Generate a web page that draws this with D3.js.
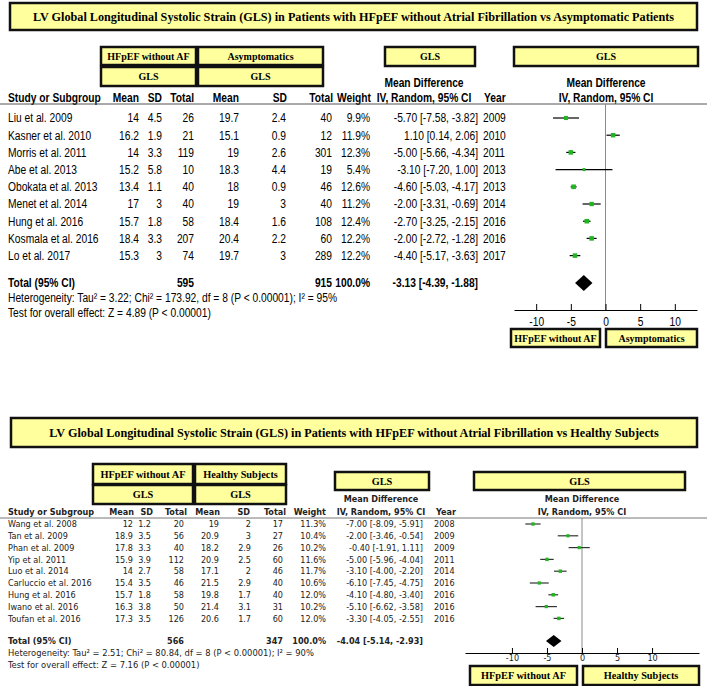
<!DOCTYPE html>
<html>
<head>
<meta charset="utf-8">
<script src="https://cdn.jsdelivr.net/npm/d3@7"></script>
<style>
  body { margin: 0; background: #fff; }
  svg { display: block; }
</style>
</head>
<body>
<svg id="chart"></svg>
<script>
/* ---------- data: HFpEF without AF vs Asymptomatics ---------- */
const studies1 = ["Liu et al. 2009", "Kasner et al. 2010", "Morris et al. 2011", "Abe et al. 2013",
  "Obokata et al. 2013", "Menet et al. 2014", "Hung et al. 2016", "Kosmala et al. 2016", "Lo et al. 2017"];
const meanA1 = ["14", "16.2", "14", "15.2", "13.4", "17", "15.7", "18.4", "15.3"];
const sdA1   = ["4.5", "1.9", "3.3", "5.8", "1.1", "3", "1.8", "3.3", "3"];
const nA1    = [26, 21, 119, 10, 40, 40, 58, 207, 74];
const meanB1 = ["19.7", "15.1", "19", "18.3", "18", "19", "18.4", "20.4", "19.7"];
const sdB1   = ["2.4", "0.9", "2.6", "4.4", "0.9", "3", "1.6", "2.2", "3"];
const nB1    = [40, 12, 301, 19, 46, 40, 108, 60, 289];
const weight1 = [9.9, 11.9, 12.3, 5.4, 12.6, 11.2, 12.4, 12.2, 12.2];
const md1    = [-5.70, 1.10, -5.00, -3.10, -4.60, -2.00, -2.70, -2.00, -4.40];
const lo1    = [-7.58, 0.14, -5.66, -7.20, -5.03, -3.31, -3.25, -2.72, -5.17];
const hi1    = [-3.82, 2.06, -4.34, 1.00, -4.17, -0.69, -2.15, -1.28, -3.63];
const year1  = [2009, 2010, 2011, 2013, 2013, 2014, 2016, 2016, 2017];
const total1 = { nA: 595, nB: 915, md: -3.13, lo: -4.39, hi: -1.88 };
const het1   = "Heterogeneity: Tau² = 3.22; Chi² = 173.92, df = 8 (P < 0.00001); I² = 95%";
const test1  = "Test for overall effect: Z = 4.89 (P < 0.00001)";

/* ---------- data: HFpEF without AF vs Healthy Subjects ---------- */
const studies2 = ["Wang et al. 2008", "Tan et al. 2009", "Phan et al. 2009", "Yip et al. 2011", "Luo et al. 2014",
  "Carluccio et al. 2016", "Hung et al. 2016", "Iwano et al. 2016", "Toufan et al. 2016"];
const meanA2 = ["12", "18.9", "17.8", "15.9", "14", "15.4", "15.7", "16.3", "17.3"];
const sdA2   = ["1.2", "3.5", "3.3", "3.9", "2.7", "3.5", "1.8", "3.8", "3.5"];
const nA2    = [20, 56, 40, 112, 58, 46, 58, 50, 126];
const meanB2 = ["19", "20.9", "18.2", "20.9", "17.1", "21.5", "19.8", "21.4", "20.6"];
const sdB2   = ["2", "3", "2.9", "2.5", "2", "2.9", "1.7", "3.1", "1.7"];
const nB2    = [17, 27, 26, 60, 46, 40, 40, 31, 60];
const weight2 = [11.3, 10.4, 10.2, 11.6, 11.7, 10.6, 12.0, 10.2, 12.0];
const md2    = [-7.00, -2.00, -0.40, -5.00, -3.10, -6.10, -4.10, -5.10, -3.30];
const lo2    = [-8.09, -3.46, -1.91, -5.96, -4.00, -7.45, -4.80, -6.62, -4.05];
const hi2    = [-5.91, -0.54, 1.11, -4.04, -2.20, -4.75, -3.40, -3.58, -2.55];
const year2  = [2008, 2009, 2009, 2011, 2014, 2016, 2016, 2016, 2016];
const total2 = { nA: 566, nB: 347, md: -4.04, lo: -5.14, hi: -2.93 };
const het2   = "Heterogeneity: Tau² = 2.51; Chi² = 80.84, df = 8 (P < 0.00001); I² = 90%";
const test2  = "Test for overall effect: Z = 7.16 (P < 0.00001)";

const axisTicks = [-10, -5, 0, 5, 10];

/* ---------- setup ---------- */
const width = 707, height = 686;
const svg = d3.select("#chart").attr("width", width).attr("height", height);

const boxFill = "#ffff9e", boxStroke = "#111", markGreen = "#22b422";
const serif = '"Liberation Serif", "Times New Roman", serif';
const f2 = v => (v < 0 ? "-" : "") + Math.abs(v).toFixed(2);
const ciText = (m, l, h) => `${f2(m)} [${f2(l)}, ${f2(h)}]`;

function box(g, x0, x1, y0, y1, label, fs, sw = 2.5) {
  g.append("rect").attr("x", x0).attr("y", y0).attr("width", x1 - x0).attr("height", y1 - y0)
    .attr("fill", boxFill).attr("stroke", boxStroke).attr("stroke-width", sw);
  g.append("text").attr("x", (x0 + x1) / 2).attr("y", (y0 + y1) / 2).attr("dy", "0.35em")
    .attr("text-anchor", "middle").attr("font-family", serif).attr("font-weight", "bold")
    .attr("font-size", fs).attr("fill", "#000").text(label);
}

function drawPanel(d, L) {
  const g = svg.append("g");
  // sx squeezes the text horizontally (narrow face look)
  const txt = (x, y, s, anchor = "start", bold = false, fs = L.fs) =>
    g.append("text").attr("transform", `translate(${x},${y}) scale(${L.sx},1)`).attr("dy", "0.35em")
      .attr("text-anchor", anchor).attr("font-family", L.font).attr("font-size", fs)
      .attr("font-weight", bold ? "bold" : "normal").attr("fill", L.ink).text(s);

  // title + header boxes
  box(g, L.title[0], L.title[1], L.title[2], L.title[3], d.title, L.titleFs, 2.5);
  L.groups.forEach((b, i) => {
    box(g, b[0], b[1], L.gy[0], L.gy[1], d.groups[i], L.boxFs);
    box(g, b[0], b[1], L.gy[2], L.gy[3], "GLS", L.boxFs);
  });
  L.rbox.forEach(b => box(g, b[0], b[1], L.ry[0], L.ry[1], "GLS", L.boxFs));

  // column headings
  const c = L.cols, h = L.head;
  txt(c.name, L.headY, "Study or Subgroup", "start", true);
  [["Mean", h.m1], ["SD", h.s1], ["Total", h.n1], ["Mean", h.m2], ["SD", h.s2], ["Total", h.n2], ["Weight", h.w]]
    .forEach(([s, x]) => txt(x, L.headY, s, "end", true));
  txt(L.mdX[0], L.mdY, "Mean Difference", "middle", true);
  txt(L.mdX[0], L.headY, "IV, Random, 95% CI", "middle", true);
  txt(h.year, L.headY, "Year", "start", true);
  txt(L.mdX[1], L.mdY, "Mean Difference", "middle", true);
  txt(L.mdX[1], L.headY, "IV, Random, 95% CI", "middle", true);
  g.append("line").attr("x1", 0).attr("x2", width).attr("y1", L.lineY).attr("y2", L.lineY)
    .attr("stroke", L.ruleColor).attr("stroke-width", 1);

  // study rows
  const rowY = i => L.rowY0 + i * L.rowStep;
  d.studies.forEach((s, i) => {
    const y = rowY(i);
    txt(c.name, y, s);
    txt(c.m1, y, d.meanA[i], "end");
    txt(c.s1, y, d.sdA[i], "end");
    txt(c.n1, y, d.nA[i], "end");
    txt(c.m2, y, d.meanB[i], "end");
    txt(c.s2, y, d.sdB[i], "end");
    txt(c.n2, y, d.nB[i], "end");
    txt(c.w, y, d.weight[i].toFixed(1) + "%", "end");
    txt(c.ci, y, ciText(d.md[i], d.lo[i], d.hi[i]), "end");
    txt(c.year, y, d.year[i]);
  });

  // totals + footnotes
  txt(c.name, L.totalY, "Total (95% CI)", "start", true);
  txt(c.n1, L.totalY, d.total.nA, "end", true);
  txt(c.n2, L.totalY, d.total.nB, "end", true);
  txt(c.w, L.totalY, "100.0%", "end", true);
  txt(c.ci, L.totalY, ciText(d.total.md, d.total.lo, d.total.hi), "end", true);
  txt(c.name, L.hetY, d.het, "start", false, L.noteFs);
  txt(c.name, L.testY, d.test, "start", false, L.noteFs);

  // forest plot
  const x = d3.scaleLinear().domain(L.xDomain).range(L.xRange);
  g.append("line").attr("x1", x(0)).attr("x2", x(0)).attr("y1", L.lineY).attr("y2", L.axisY)
    .attr("stroke", "#8a8a8a").attr("stroke-width", 1);

  const rows = g.append("g");
  d.studies.forEach((s, i) => {
    const y = rowY(i);
    rows.append("line").attr("x1", x(d.lo[i])).attr("x2", x(d.hi[i])).attr("y1", y).attr("y2", y)
      .attr("stroke", L.ciColor).attr("stroke-width", 1.2);
    const sz = Math.sqrt(d.weight[i]) * L.sq;
    rows.append("rect").attr("x", x(d.md[i]) - sz / 2).attr("y", y - sz / 2)
      .attr("width", sz).attr("height", sz).attr("fill", markGreen);
  });

  const ty = L.totalY, dh = L.diamondH;
  g.append("path")
    .attr("d", `M${x(d.total.lo)},${ty} L${x(d.total.md)},${ty - dh} L${x(d.total.hi)},${ty} L${x(d.total.md)},${ty + dh} Z`)
    .attr("fill", "#000");

  const axis = d3.axisBottom(x).tickValues(axisTicks).tickSize(-L.tick).tickSizeOuter(0)
    .tickPadding(L.tickPad).tickFormat(d3.format("d"));
  const ag = g.append("g").attr("transform", `translate(0,${L.axisY})`).call(axis);
  ag.select(".domain").attr("stroke", "#000");
  ag.selectAll(".tick line").attr("stroke", "#000");
  ag.selectAll(".tick text").attr("font-family", L.font).attr("font-size", L.axisFs).attr("fill", L.ink)
    .attr("transform", `scale(${L.sx},1)`)
    .text(v => v < 0 ? "-" + Math.abs(v) : v);

  L.bottom.forEach((b, i) => box(g, b[0], b[1], L.by[0], L.by[1], d.bottomLabels[i], L.boxFs));
}

/* ---------- panel 1 ---------- */
drawPanel({
  title: "LV Global Longitudinal Systolic Strain (GLS) in Patients with HFpEF without Atrial Fibrillation vs Asymptomatic Patients",
  groups: ["HFpEF without AF", "Asymptomatics"], bottomLabels: ["HFpEF without AF", "Asymptomatics"],
  studies: studies1, meanA: meanA1, sdA: sdA1, nA: nA1, meanB: meanB1, sdB: sdB1, nB: nB1,
  weight: weight1, md: md1, lo: lo1, hi: hi1, year: year1, total: total1, het: het1, test: test1
}, {
  font: '"Liberation Sans", Arial, sans-serif', sx: 0.82, fs: 12.5, noteFs: 12.5, axisFs: 12.5, ink: "#000",
  title: [10, 697, 3, 30], titleFs: 12.2, boxFs: 10,
  groups: [[101, 196], [198, 323]], gy: [47, 65, 67, 86],
  rbox: [[385, 475], [514, 698]], ry: [47, 66],
  mdY: 83, mdX: [424, 606], headY: 98, lineY: 104, ruleColor: "#555",
  cols: { name: 8, m1: 139, s1: 162, n1: 194, m2: 239, s2: 286, n2: 332, w: 370, ci: 478, year: 483 },
  head: { m1: 139, s1: 162, n1: 194, m2: 239, s2: 287, n2: 333, w: 371, year: 484 },
  rowY0: 118, rowStep: 17.2, totalY: 283, hetY: 298, testY: 313,
  xDomain: [-13.2, 13.2], xRange: [514, 697], axisY: 310, tick: 6, tickPad: 7,
  ciColor: "#000", sq: 1.3, diamondH: 8,
  bottom: [[511, 600], [606, 697]], by: [329, 347]
});

/* ---------- panel 2 ---------- */
drawPanel({
  title: "LV Global Longitudinal Systolic Strain (GLS) in Patients with HFpEF without Atrial Fibrillation vs Healthy Subjects",
  groups: ["HFpEF without AF", "Healthy Subjects"], bottomLabels: ["HFpEF without AF", "Healthy Subjects"],
  studies: studies2, meanA: meanA2, sdA: sdA2, nA: nA2, meanB: meanB2, sdB: sdB2, nB: nB2,
  weight: weight2, md: md2, lo: lo2, hi: hi2, year: year2, total: total2, het: het2, test: test2
}, {
  font: '"DejaVu Sans Condensed", "DejaVu Sans", sans-serif', sx: 1, fs: 9, noteFs: 9.3, axisFs: 9, ink: "#222",
  title: [11, 697, 418, 447], titleFs: 12.2, boxFs: 10.3,
  groups: [[93, 193], [195, 286]], gy: [464, 484, 485, 504],
  rbox: [[335, 429], [474, 685]], ry: [472, 490],
  mdY: 499, mdX: [381, 582], headY: 512, lineY: 518, ruleColor: "#777",
  cols: { name: 8, m1: 133, s1: 151, n1: 184, m2: 219, s2: 251, n2: 283, w: 326, ci: 423, year: 434 },
  head: { m1: 134, s1: 153, n1: 187, m2: 220, s2: 250, n2: 286, w: 326, year: 436 },
  rowY0: 524, rowStep: 11.8, totalY: 641, hetY: 653, testY: 665,
  xDomain: [-16.7, 16.7], xRange: [465, 699], axisY: 653, tick: 5, tickPad: 2,
  ciColor: "#333", sq: 1.0, diamondH: 6,
  bottom: [[470, 577], [583, 699]], by: [666, 685]
});
</script>
</body>
</html>
